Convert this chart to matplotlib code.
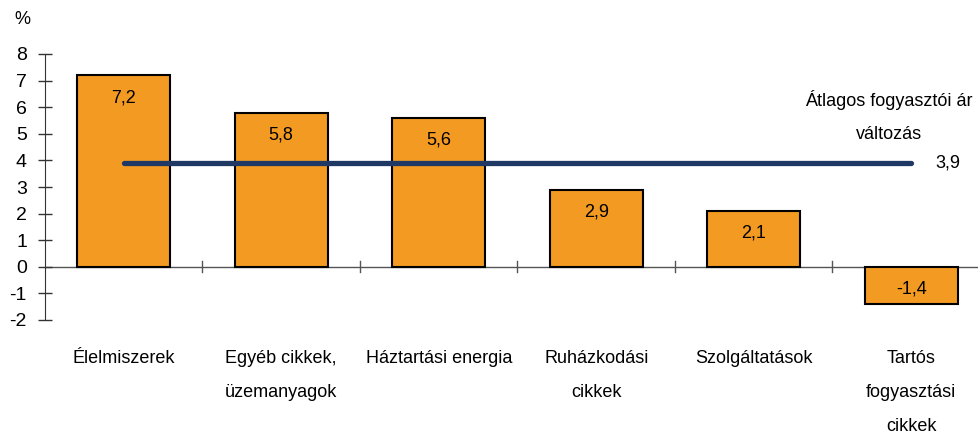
import matplotlib.pyplot as plt
import numpy as np

plt.rcParams['font.family'] = ['Liberation Sans', 'DejaVu Sans']

# data
categories = ["Élelmiszerek", "Egyéb cikkek,\nüzemanyagok", "Háztartási energia",
              "Ruházkodási\ncikkek", "Szolgáltatások", "Tartós\nfogyasztási\ncikkek"]
values = [7.2, 5.8, 5.6, 2.9, 2.1, -1.4]
average = 3.9
avg_label = "Átlagos fogyasztói ár\nváltozás"

BAR_COLOR = "#F39A22"
LINE_COLOR = "#1F3864"
FS = 13

fig = plt.figure(figsize=(9.79, 4.34), dpi=100)
ax = fig.add_axes([45 / 979, 1 - 320 / 434, 945 / 979, (320 - 54) / 434])

x = np.arange(len(categories))
ax.bar(x, values, width=0.59, color=BAR_COLOR, edgecolor="black", linewidth=1.5, zorder=2)

# value labels inside the bars, near the zero-far end (or the zero end for negatives)
for xi, v in zip(x, values):
    top = max(v, 0)
    ax.annotate(f"{v:.1f}".replace(".", ","), xy=(xi, top), xytext=(0, -10),
                textcoords="offset points", ha="center", va="top", fontsize=FS, zorder=4)

# average line
ax.plot([x[0], x[-1]], [average, average], color=LINE_COLOR, lw=3.8,
        solid_capstyle="round", zorder=3)
ax.annotate(f"{average:.1f}".replace(".", ","), xy=(x[-1], average), xytext=(17, 0),
            textcoords="offset points", ha="left", va="center", fontsize=FS)
ax.text(x[-1] - 0.14, 5.65, avg_label, ha="center", va="center", fontsize=FS,
        linespacing=2.25)

# zero line and category ticks
ax.axhline(0, color="#555555", lw=1.0, zorder=1)
ax.set_xlim(-0.5, len(categories) - 0.5)
ax.set_ylim(-2, 8)
ax.set_yticks(np.arange(-2, 9, 1))
ax.set_yticklabels([str(t) for t in range(-2, 9)], fontsize=14)
ax.set_xticks([])
for b in np.arange(0.5, len(categories) - 0.5, 1):
    ax.plot([b, b], [-0.2, 0.2], color="#555555", lw=1.0, zorder=1)

# category labels below the plot
for xi, lab in zip(x, categories):
    ax.text(xi, -3.12, lab, ha="center", va="top", fontsize=FS, linespacing=2.3)

for s in ["top", "right", "bottom"]:
    ax.spines[s].set_visible(False)
ax.spines["left"].set_color("#333333")
ax.tick_params(axis="y", direction="inout", length=10, width=1.0, color="#333333", pad=8)

fig.text(22 / 979, 1 - 20 / 434, "%", ha="center", va="center", fontsize=FS)

fig.savefig("out.png", dpi=100)
